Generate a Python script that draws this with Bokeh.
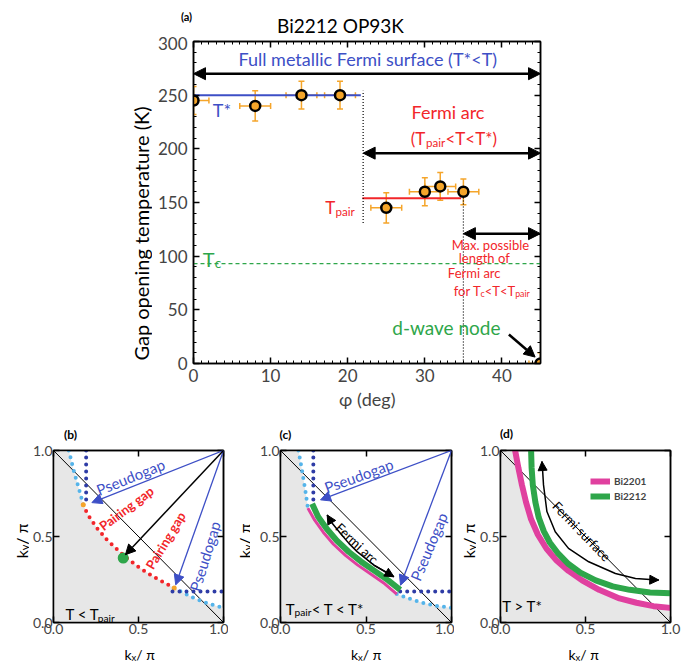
from bokeh.plotting import figure
from bokeh.models import (ColumnDataSource, Label, Arrow, NormalHead, Whisker, TeeHead,
                          LinearAxis, SingleIntervalTicker, FixedTicker, Range1d,
                          Legend, LegendItem, NumeralTickFormatter, CustomJSTickFormatter)
from bokeh.layouts import column, row
from bokeh.embed import file_html
from bokeh.resources import INLINE

FONT = "Lato"
BLUE = "#3d4fc6"
RED = "#f2262a"
GREEN = "#2ea64a"
ORANGE = "#f5a52a"
LIGHTBLUE = "#55b4ea"
DARKBLUE = "#2e3ca6"
MAGENTA = "#e0409f"
GREY = "#e7e7e7"

# ---------------- Panel (a) data ----------------
phi_deg = [0, 8, 14, 19, 25, 30, 32, 35, 45]
gap_T = [245, 240, 250, 250, 145, 160, 165, 160, 0]
phi_err = [2.0, 2.0, 2.0, 2.0, 2.0, 2.0, 2.0, 2.0, 1.5]
gap_T_err = [13, 14, 13, 13, 14, 13, 13, 12, 10]
tstar_phi = [0, 21.7]
tstar_T = [250, 250]
tpair_phi = [21.9, 34.7]
tpair_T = [154, 154]
tc_phi = [0, 45]
tc_T = [93, 93]
vdot_phi = [22, 35]
vdot_T0 = [131, 0]
vdot_T1 = [254, 160]
arrow_T = [270, 196, 121]
arrow_phi0 = [0, 22, 35]
arrow_phi1 = [45, 45, 45]
node_arrow_phi = [40.9, 44.3]
node_arrow_T = [27, 6]
x_ticks_a = 10
y_ticks_a = 50

# ---------------- Panels (b)-(d) data ----------------
k_ticks = [0.0, 0.5, 1.0]
diag_kx = [0.0, 1.0]
diag_ky = [1.0, 0.0]
fs_kx = [0.09, 0.12, 0.15, 0.175, 0.20, 0.255, 0.315, 0.375, 0.43, 0.51, 0.59, 0.665, 0.71, 0.75, 0.83, 0.91, 1.00]
fs_ky = [1.00, 0.88, 0.775, 0.685, 0.63, 0.55, 0.48, 0.425, 0.375, 0.315, 0.265, 0.225, 0.20, 0.18, 0.14, 0.11, 0.085]
pair_i0, pair_i1 = 3, 12
node_kx = [0.41]
node_ky = [0.375]
pg_v_kx = [0.192, 0.192]
pg_v_ky = [1.0, 0.70]
pg_h_kx = [0.70, 1.0]
pg_h_ky = [0.18, 0.18]
corner = (1.0, 1.0)
b_blue_end_kx = [0.226, 0.719]
b_blue_end_ky = [0.697, 0.219]
b_black_end = (0.423, 0.394)
arc_kx = [0.185, 0.22, 0.27, 0.33, 0.40, 0.47, 0.55, 0.63, 0.70]
arc_ky = [0.69, 0.615, 0.545, 0.475, 0.41, 0.355, 0.30, 0.245, 0.19]
arc_in_kx = [0.16, 0.20, 0.25, 0.31, 0.38, 0.45, 0.53, 0.61, 0.68]
arc_in_ky = [0.665, 0.595, 0.525, 0.455, 0.39, 0.335, 0.28, 0.225, 0.165]
fs_c_up_kx = [0.105, 0.125, 0.145, 0.16]
fs_c_up_ky = [1.00, 0.89, 0.77, 0.665]
fs_c_lo_kx = [0.68, 0.75, 0.83, 0.91, 1.00]
fs_c_lo_ky = [0.165, 0.14, 0.115, 0.097, 0.085]
arcarrow_kx = [0.273, 0.30, 0.351, 0.40, 0.448, 0.546, 0.663]
arcarrow_ky = [0.625, 0.58, 0.518, 0.46, 0.412, 0.334, 0.266]
c_blue_end_kx = [0.234, 0.702]
c_blue_end_ky = [0.713, 0.217]
bi2201_kx = [0.086, 0.105, 0.126, 0.15, 0.18, 0.22, 0.27, 0.33, 0.40, 0.48, 0.58, 0.70, 0.80, 0.90, 1.00]
bi2201_ky = [1.00, 0.90, 0.80, 0.70, 0.60, 0.51, 0.43, 0.36, 0.30, 0.245, 0.19, 0.14, 0.115, 0.095, 0.085]
bi2212_kx = [0.18, 0.183, 0.19, 0.205, 0.225, 0.255, 0.29, 0.34, 0.40, 0.47, 0.56, 0.66, 0.76, 0.88, 1.00]
bi2212_ky = [1.00, 0.90, 0.80, 0.70, 0.61, 0.53, 0.465, 0.40, 0.34, 0.29, 0.245, 0.21, 0.19, 0.175, 0.17]
fsarrow_kx = [0.244, 0.248, 0.253, 0.273, 0.322, 0.40, 0.519, 0.676, 0.794, 0.90, 0.931]
fsarrow_ky = [0.936, 0.88, 0.80, 0.645, 0.528, 0.431, 0.353, 0.285, 0.256, 0.248, 0.247]

# ---------------- text helpers ----------------
_W = {" ": 193, "(": 300, ")": 300, "*": 410, "<": 580, ">": 580, "/": 370, ".": 232, "-": 340,
      "π": 620, "φ": 700,
      "a": 503, "b": 561, "c": 467, "d": 561, "e": 527, "f": 330, "g": 503, "h": 557, "i": 244,
      "j": 244, "k": 510, "l": 244, "m": 834, "n": 557, "o": 561, "p": 555, "q": 561, "r": 380,
      "s": 430, "t": 356, "u": 557, "v": 510, "w": 762, "x": 490, "y": 510, "z": 447,
      "T": 594, "F": 550, "B": 635, "K": 670, "O": 800, "P": 600, "M": 912}


def twidth(s, size, bold=False):
    w = sum(_W.get(ch, 580) for ch in s) / 1000.0 * size
    return w * (1.05 if bold else 1.0)


def label(p, x, y, text, size, color="black", align="center", angle=0, bold=False, baseline="middle"):
    p.add_layout(Label(x=x, y=y, text=text, angle=angle, angle_units="deg",
                       text_font=FONT, text_font_size=f"{size}px", text_color=color,
                       text_font_style="bold" if bold else "normal",
                       text_align=align, text_baseline=baseline))


def rich(p, x, y, parts, size, color="black", align="left", angle=0, bold=False, sub_scale=0.68):
    widths = []
    for t, k in parts:
        fs = size * sub_scale if k == "s" else size
        widths.append(twidth(t, fs, bold))
    total = sum(widths)
    pos = {"left": 0.0, "center": -total / 2.0, "right": -total}[align]
    for (t, k), w in zip(parts, widths):
        fs = size * sub_scale if k == "s" else size
        down = 0.36 * size + (0.22 * size if k == "s" else 0.0)
        if angle == 0:
            xo, yo = pos, -down
        else:
            xo, yo = down, pos
        p.add_layout(Label(x=x, y=y, x_offset=xo, y_offset=yo, text=t, angle=angle,
                           angle_units="deg", text_font=FONT, text_font_size=f"{fs:.1f}px",
                           text_color=color, text_font_style="bold" if bold else "normal",
                           text_align="left", text_baseline="alphabetic"))
        pos += w


def style_axis(ax, size, standoff, minor=True, show=True):
    ax.major_tick_in = 6
    ax.major_tick_out = 0
    ax.minor_tick_in = 3 if minor else 0
    ax.minor_tick_out = 0
    ax.axis_line_color = "black"
    ax.axis_line_width = 1.5
    ax.major_tick_line_width = 1.5
    ax.minor_tick_line_width = 1
    ax.major_label_text_font = FONT
    ax.major_label_text_font_size = f"{size}px"
    ax.major_label_standoff = standoff
    if not show:
        ax.formatter = CustomJSTickFormatter(code="return ''")
        ax.major_label_text_color = None


def strip(x0, x1, y0, y1, top=0, bottom=0):
    """Text-only figure; its frame spans page pixels x0..x1, y0..y1 (data = page pixels)."""
    s = figure(width=x1 - x0, height=y1 - y0 + top + bottom,
               x_range=Range1d(x0, x1), y_range=Range1d(y1, y0),
               x_axis_type=None, y_axis_type=None, min_border_left=0, min_border_right=0,
               min_border_top=top, min_border_bottom=bottom, output_backend="svg",
               toolbar_location=None, outline_line_color=None)
    s.grid.visible = False
    return s


# ================= top strip =================
s_top = strip(0, 681, 0, 36)
label(s_top, 340, 25, "Bi2212 OP93K", 19)
label(s_top, 186, 16, "(a)", 11, bold=True)

# ================= Panel (a) =================
pa = figure(width=529, height=384, x_range=Range1d(0, 45), y_range=Range1d(0, 300),
            min_border_left=41, min_border_right=141, min_border_top=5, min_border_bottom=57,
            output_backend="svg", toolbar_location=None)
pa.grid.visible = False
pa.outline_line_color = "black"
pa.outline_line_width = 1.5
pa.xaxis.ticker = SingleIntervalTicker(interval=x_ticks_a, num_minor_ticks=10)
pa.yaxis.ticker = SingleIntervalTicker(interval=y_ticks_a, num_minor_ticks=5)
style_axis(pa.xaxis[0], 17, 5)
style_axis(pa.yaxis[0], 17, 6)
pa.xaxis.axis_label = "φ (deg)"
pa.xaxis.axis_label_text_font = FONT
pa.xaxis.axis_label_text_font_size = "18px"
pa.xaxis.axis_label_text_font_style = "normal"
pa.xaxis.axis_label_standoff = 3
ax_top = LinearAxis(ticker=SingleIntervalTicker(interval=x_ticks_a, num_minor_ticks=10))
style_axis(ax_top, 10, 0, show=False)
pa.add_layout(ax_top, "above")
ax_right = LinearAxis(ticker=SingleIntervalTicker(interval=y_ticks_a, num_minor_ticks=5))
style_axis(ax_right, 10, 0, show=False)
pa.add_layout(ax_right, "right")

pa.line(tstar_phi, tstar_T, line_color=BLUE, line_width=2)
pa.line(tpair_phi, tpair_T, line_color=RED, line_width=2)
pa.line(tc_phi, tc_T, line_color=GREEN, line_width=1.2, line_dash="4 3")
pa.segment(x0=vdot_phi, y0=vdot_T0, x1=vdot_phi, y1=vdot_T1, line_color="black",
           line_width=1.2, line_dash="1 2")
for yv, x0, x1 in zip(arrow_T, arrow_phi0, arrow_phi1):
    pa.add_layout(Arrow(x_start=x0, y_start=yv, x_end=x1, y_end=yv, line_width=2.5,
                        line_color="black",
                        start=NormalHead(size=12, fill_color="black", line_color="black"),
                        end=NormalHead(size=12, fill_color="black", line_color="black")))
pa.add_layout(Arrow(x_start=node_arrow_phi[0], y_start=node_arrow_T[0],
                    x_end=node_arrow_phi[1], y_end=node_arrow_T[1], line_width=2.5,
                    line_color="black", end=NormalHead(size=11, fill_color="black", line_color="black")))

src = ColumnDataSource(dict(
    phi=phi_deg, T=gap_T,
    xl=[p - e for p, e in zip(phi_deg, phi_err)], xu=[p + e for p, e in zip(phi_deg, phi_err)],
    yl=[t - e for t, e in zip(gap_T, gap_T_err)], yu=[t + e for t, e in zip(gap_T, gap_T_err)]))
for dim, lo, hi, base in (("width", "xl", "xu", "T"), ("height", "yl", "yu", "phi")):
    pa.add_layout(Whisker(source=src, base=base, lower=lo, upper=hi, dimension=dim,
                          line_color=ORANGE, line_width=1.5,
                          upper_head=TeeHead(size=6, line_color=ORANGE, line_width=1.5),
                          lower_head=TeeHead(size=6, line_color=ORANGE, line_width=1.5)))
pa.scatter("phi", "T", source=src, size=10, fill_color=ORANGE, line_color="black", line_width=2.5)

label(pa, 22.6, 284, "Full metallic Fermi surface (T*<T)", 18, color=BLUE)
label(pa, 2.5, 236, "T*", 18, color=BLUE, align="left")
label(pa, 33.0, 234, "Fermi arc", 18, color=RED)
rich(pa, 33.8, 215.5, [("(T", "n"), ("pair", "s"), ("<T<T*)", "n")], 17, color=RED, align="center")
rich(pa, 17.1, 151, [("T", "n"), ("pair", "s")], 17, color=RED)
rich(pa, 1.2, 104, [("T", "n"), ("c", "s")], 20, color=GREEN)
label(pa, 38.5, 110.6, "Max. possible", 13, color=RED)
label(pa, 37.7, 98.2, "length of", 13, color=RED)
label(pa, 36.4, 84.6, "Fermi arc", 13, color=RED)
rich(pa, 38.7, 72.0, [("for T", "n"), ("c", "s"), ("<T<T", "n"), ("pair", "s")], 13, color=RED,
     align="center")
label(pa, 32.8, 33.4, "d-wave node", 19, color=GREEN)

# y-axis title strip (frame aligned with panel (a) frame: page y 41..363)
s_ya = strip(0, 152, 41, 363, top=5, bottom=57)
label(s_ya, 140, 233, "Gap opening temperature (K)", 20, angle=90)


# ================= k-space panels =================
def kpanel(width, left, right):
    p = figure(width=width, height=196, x_range=Range1d(0, 1), y_range=Range1d(0, 1),
               min_border_left=left, min_border_right=right, min_border_top=6,
               min_border_bottom=18, output_backend="svg", toolbar_location=None)
    p.grid.visible = False
    p.outline_line_color = "black"
    p.outline_line_width = 1.5
    p.xaxis.ticker = FixedTicker(ticks=k_ticks)
    p.yaxis.ticker = FixedTicker(ticks=k_ticks)
    p.xaxis.formatter = NumeralTickFormatter(format="0.0")
    p.yaxis.formatter = NumeralTickFormatter(format="0.0")
    style_axis(p.xaxis[0], 14, 1, minor=False)
    style_axis(p.yaxis[0], 14, 1, minor=False)
    for loc in ("above", "right"):
        ax = LinearAxis(ticker=FixedTicker(ticks=k_ticks))
        style_axis(ax, 8, 0, minor=False, show=False)
        p.add_layout(ax, loc)
    return p


def grey_fill(p, kx, ky):
    xs = [diag_kx[0]] + list(kx) + [diag_kx[1], diag_kx[0]]
    ys = [diag_ky[0]] + list(ky) + [diag_ky[1], diag_ky[1]]
    p.patch(xs, ys, fill_color=GREY, line_color=None)


def dotted(p, kx, ky, color, width=4):
    p.line(kx, ky, line_color=color, line_width=width, line_dash="0 7", line_cap="round")


def arrow(p, x0, y0, x1, y1, color, lw=1.3, size=10):
    head = dict(size=size, fill_color=color, line_color=color)
    p.add_layout(Arrow(x_start=x0, y_start=y0, x_end=x1, y_end=y1, line_color=color,
                       line_width=lw, end=NormalHead(**head), start=None))


# ---- (b)
pb = kpanel(199, 24, 5)
grey_fill(pb, fs_kx, fs_ky)
pb.line(diag_kx, diag_ky, line_color="black", line_width=1)
dotted(pb, fs_kx[:pair_i0 + 1], fs_ky[:pair_i0 + 1], LIGHTBLUE)
dotted(pb, fs_kx[pair_i1:], fs_ky[pair_i1:], LIGHTBLUE)
dotted(pb, fs_kx[pair_i0:pair_i1 + 1], fs_ky[pair_i0:pair_i1 + 1], RED)
pb.scatter([fs_kx[pair_i0], fs_kx[pair_i1]], [fs_ky[pair_i0], fs_ky[pair_i1]], size=5,
           fill_color=ORANGE, line_color=None)
dotted(pb, pg_v_kx, pg_v_ky, DARKBLUE)
dotted(pb, pg_h_kx, pg_h_ky, DARKBLUE)
pb.scatter(node_kx, node_ky, size=11, fill_color=GREEN, line_color=None)
for ex, ey in zip(b_blue_end_kx, b_blue_end_ky):
    arrow(pb, corner[0], corner[1], ex, ey, BLUE)
arrow(pb, corner[0], corner[1], b_black_end[0], b_black_end[1], "black", lw=1.5)
label(pb, 0.453, 0.847, "Pseudogap", 15, color=BLUE, angle=22)
label(pb, 0.89, 0.385, "Pseudogap", 15, color=BLUE, angle=73)
label(pb, 0.429, 0.664, "Pairing gap", 13, color=RED, angle=37, bold=True)
label(pb, 0.659, 0.477, "Pairing gap", 13, color=RED, angle=59, bold=True)
rich(pb, 0.07, 0.078, [("T < T", "n"), ("pair", "s")], 15)

# ---- (c)
pc = kpanel(204, 30, 3)
grey_fill(pc, fs_c_up_kx + arc_in_kx + fs_c_lo_kx, fs_c_up_ky + arc_in_ky + fs_c_lo_ky)
pc.line(diag_kx, diag_ky, line_color="black", line_width=1)
dotted(pc, fs_c_up_kx, fs_c_up_ky, LIGHTBLUE)
dotted(pc, fs_c_lo_kx, fs_c_lo_ky, LIGHTBLUE)
dotted(pc, pg_v_kx, pg_v_ky, DARKBLUE)
dotted(pc, pg_h_kx, pg_h_ky, DARKBLUE)
pc.line(arc_in_kx, arc_in_ky, line_color=MAGENTA, line_width=3)
pc.line(arc_kx, arc_ky, line_color=GREEN, line_width=6)
pc.line(arcarrow_kx, arcarrow_ky, line_color="black", line_width=1.5)
arrow(pc, arcarrow_kx[-2], arcarrow_ky[-2], arcarrow_kx[-1], arcarrow_ky[-1], "black", lw=1.5, size=9)
arrow(pc, arcarrow_kx[1], arcarrow_ky[1], arcarrow_kx[0], arcarrow_ky[0], "black", lw=1.5, size=9)
for ex, ey in zip(c_blue_end_kx, c_blue_end_ky):
    arrow(pc, corner[0], corner[1], ex, ey, BLUE)
label(pc, 0.458, 0.854, "Pseudogap", 15, color=BLUE, angle=20)
label(pc, 0.867, 0.441, "Pseudogap", 15, color=BLUE, angle=67)
label(pc, 0.448, 0.46, "Fermi arc", 13, angle=-43)
rich(pc, 0.03, 0.11, [("T", "n"), ("pair", "s"), (" < T < T*", "n")], 15)

# ---- (d)
pd_ = kpanel(205, 24, 11)
grey_fill(pd_, bi2201_kx, bi2201_ky)
pd_.line(diag_kx, diag_ky, line_color="black", line_width=1)
r2201 = pd_.line(bi2201_kx, bi2201_ky, line_color=MAGENTA, line_width=6)
r2212 = pd_.line(bi2212_kx, bi2212_ky, line_color=GREEN, line_width=6)
pd_.line(fsarrow_kx, fsarrow_ky, line_color="black", line_width=1.5)
arrow(pd_, fsarrow_kx[1], fsarrow_ky[1], fsarrow_kx[0], fsarrow_ky[0], "black", lw=1.5, size=9)
arrow(pd_, fsarrow_kx[-2], fsarrow_ky[-2], fsarrow_kx[-1], fsarrow_ky[-1], "black", lw=1.5, size=9)
label(pd_, 0.478, 0.53, "Fermi surface", 13, angle=-46)
rich(pd_, 0.01, 0.125, [("T > T*", "n")], 15)
leg = Legend(items=[LegendItem(label="Bi2201", renderers=[r2201]),
                    LegendItem(label="Bi2212", renderers=[r2212])],
             location=(90, 120), padding=0, margin=0, spacing=3,
             glyph_width=20, glyph_height=12, label_height=12,
             label_text_font=FONT, label_text_font_size="10px", label_text_font_style="bold",
             label_standoff=4, border_line_alpha=0, background_fill_alpha=0)
pd_.add_layout(leg)

# ---- label strips around the k-space panels (page-pixel coordinates)
s_tags = strip(0, 681, 420, 444)
label(s_tags, 70, 434, "(b)", 12, bold=True)
label(s_tags, 285, 434, "(c)", 12, bold=True)
label(s_tags, 506, 433, "(d)", 12, bold=True)

s_yb = strip(0, 29, 450, 622, top=6, bottom=18)
rich(s_yb, 15, 540, [("k", "n"), ("y", "s"), (" / π", "n")], 16, angle=90, align="center")
s_yc = strip(228, 250, 450, 622, top=6, bottom=18)
rich(s_yc, 238, 540, [("k", "n"), ("y", "s"), (" / π", "n")], 16, angle=90, align="center")
s_yd = strip(454, 476, 450, 622, top=6, bottom=18)
rich(s_yd, 462, 540, [("k", "n"), ("y", "s"), (" / π", "n")], 16, angle=90, align="center")

s_x = strip(0, 681, 640, 663)
for xc in (139.5, 366, 583.5):
    rich(s_x, xc, 649, [("k", "n"), ("x", "s"), (" / π", "n")], 14, align="center")

layout = column(
    s_top,
    row(s_ya, pa),
    s_tags,
    row(s_yb, pb, s_yc, pc, s_yd, pd_),
    s_x,
)
open("out.html", "w").write(file_html(layout, INLINE))
